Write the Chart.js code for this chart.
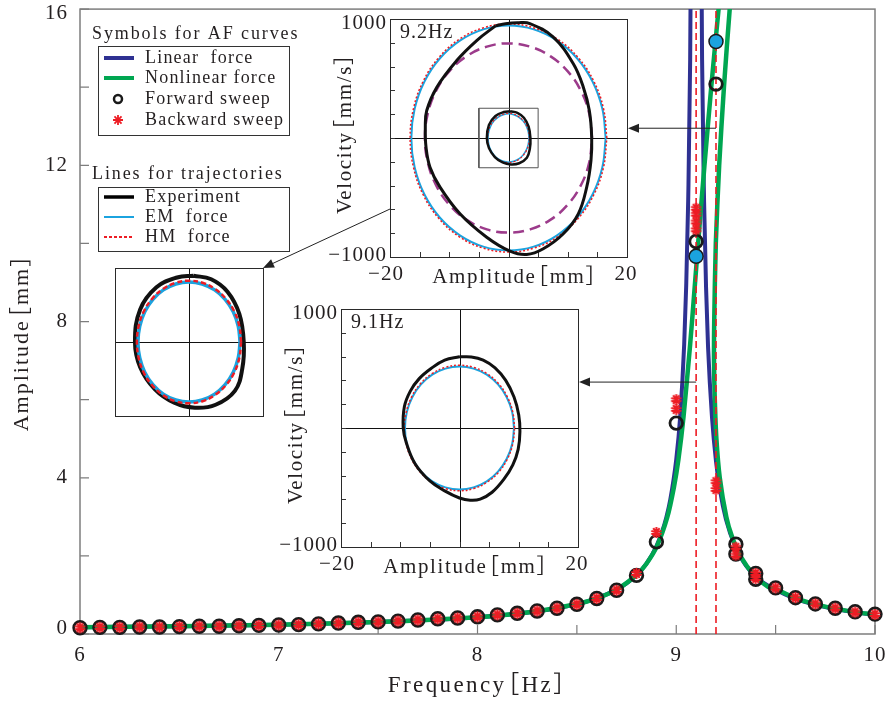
<!DOCTYPE html>
<html>
<head>
<meta charset="utf-8">
<script src="https://cdn.jsdelivr.net/npm/chart.js@4.4.1/dist/chart.umd.min.js"></script>
<style>
  html, body { margin: 0; padding: 0; background: #fff; }
  #wrap { position: relative; width: 890px; height: 702px; overflow: hidden; background: #fff; }
  #wrap canvas { position: absolute; }
</style>
</head>
<body>
<div id="wrap"></div>
<script>
// ---------- amplitude-frequency data ----------
const fwdFreq = [6.0, 6.1, 6.2, 6.3, 6.4, 6.5, 6.6, 6.7, 6.8, 6.9, 7.0, 7.1, 7.2, 7.3, 7.4, 7.5, 7.6, 7.7, 7.8, 7.9,
                 8.0, 8.1, 8.2, 8.3, 8.4, 8.5, 8.6, 8.7, 8.8, 8.9, 9.0, 9.1, 9.2, 9.3, 9.3, 9.4, 9.4, 9.5, 9.6, 9.7,
                 9.8, 9.9, 10.0];
const fwdAmp  = [0.16, 0.17, 0.17, 0.18, 0.18, 0.19, 0.20, 0.20, 0.21, 0.22, 0.23, 0.24, 0.26, 0.28, 0.30, 0.31, 0.33, 0.36, 0.39, 0.41,
                 0.44, 0.49, 0.53, 0.59, 0.66, 0.76, 0.91, 1.12, 1.50, 2.36, 5.40, 10.05, 14.08, 2.30, 2.05, 1.55, 1.40, 1.18, 0.93, 0.77,
                 0.66, 0.57, 0.51];
const bwdFreq = [6.0, 6.1, 6.2, 6.3, 6.4, 6.5, 6.6, 6.7, 6.8, 6.9, 7.0, 7.1, 7.2, 7.3, 7.4, 7.5, 7.6, 7.7, 7.8, 7.9,
                 8.0, 8.1, 8.2, 8.3, 8.4, 8.5, 8.6, 8.7, 8.8, 8.9, 9.0, 9.0, 9.1, 9.1, 9.1, 9.1, 9.2, 9.2, 9.3, 9.3,
                 9.4, 9.4, 9.5, 9.6, 9.7, 9.8, 9.9, 10.0];
const bwdAmp  = [0.16, 0.17, 0.17, 0.18, 0.18, 0.19, 0.20, 0.20, 0.21, 0.22, 0.23, 0.24, 0.26, 0.28, 0.30, 0.31, 0.33, 0.36, 0.39, 0.41,
                 0.44, 0.49, 0.53, 0.59, 0.66, 0.76, 0.91, 1.12, 1.55, 2.60, 6.00, 5.75, 10.35, 10.55, 10.75, 10.90, 3.90, 3.70, 2.22, 2.02,
                 1.55, 1.42, 1.18, 0.93, 0.77, 0.66, 0.56, 0.50];
const simFreq = [9.1, 9.2];
const simAmp  = [9.67, 15.17];
const markFreq = [9.1, 9.2];

const linFreq = [6.0, 6.25, 6.5, 6.75, 7.0, 7.25, 7.5, 7.75, 8.0, 8.2, 8.4, 8.5, 8.6, 8.7, 8.75, 8.8, 8.85, 8.9, 8.93, 8.95,
                 8.97, 9.0, 9.02, 9.04, 9.05, 9.06, 9.07, 9.08, 9.1, 9.12, 9.13, 9.14, 9.15, 9.16, 9.18, 9.2, 9.22, 9.25, 9.3, 9.35,
                 9.4, 9.5, 9.6, 9.7, 9.8, 9.9, 10.0];
const linAmp  = [0.173, 0.185, 0.199, 0.217, 0.239, 0.267, 0.305, 0.356, 0.43, 0.52, 0.66, 0.766, 0.914, 1.136, 1.295, 1.507, 1.80, 2.247, 2.64, 2.985,
                 3.44, 4.47, 5.58, 7.42, 8.91, 11.08, 14.7, 22.5, 40, 22.5, 14.7, 11.08, 8.87, 7.35, 5.54, 4.42, 3.68, 2.94, 2.2, 1.755,
                 1.46, 1.13, 0.90, 0.75, 0.64, 0.555, 0.495];

const nlFreq = [6.0, 6.5, 7.0, 7.5, 8.0, 8.25, 8.5, 8.6, 8.7, 8.8, 8.85, 8.903, 8.955, 8.988, 9.011, 9.037, 9.07, 9.087, 9.11, 9.142,
                9.176, 9.213, 9.253, 9.298, 9.325, 9.342, 9.303, 9.269, 9.240, 9.216, 9.199, 9.191, 9.190, 9.194, 9.202, 9.219, 9.252, 9.28, 9.322, 9.393,
                9.464, 9.5, 9.6, 9.7, 9.8, 9.9, 10.0];
const nlAmp  = [0.173, 0.199, 0.239, 0.305, 0.43, 0.55, 0.77, 0.915, 1.137, 1.51, 1.80, 2.25, 2.99, 3.75, 4.47, 5.58, 7.42, 8.5, 10, 12,
                14, 16, 18, 20, 21.5, 20, 18, 16, 14, 12, 10, 8, 7, 6, 5, 4, 3, 2.5, 2.0, 1.5,
                1.2, 1.15, 0.92, 0.76, 0.65, 0.56, 0.50];

const xMajor = [6, 7, 8, 9, 10];
const xMinor = [6.5, 7.5, 8.5, 9.5];
const yMajor = [0, 4, 8, 12, 16];
const yMinor = [2, 6, 10, 14];

// ---------- phase-plane trajectories (displacement mm, velocity mm/s) ----------
// 9.2 Hz, large response
const p92ExpX = [-2.2, -0.5, 1.5, 3.6, 7.56, 10.94, 12.63, 13.64, 14.04, 13.92, 13.2, 11.78, 9.25, 5.87, 3.07, 0.25, -3.68, -8.19, -11.56, -13.25, -13.92, -14.04, -13.8, -12.1, -8.74, -5.37, -2.2];
const p92ExpV = [942, 960, 968, 962, 847, 624, 427, 231, 7, -189, -413, -637, -805, -931, -979, -951, -834, -637, -413, -245, -77, 91, 231, 427, 651, 819, 942];
const p92EmX = [16.4, 15.84, 14.2, 11.6, 8.2, 4.25, 0, -4.25, -8.2, -11.6, -14.2, -15.84, -16.4, -15.84, -14.2, -11.6, -8.2, -4.25, 0, 4.25, 8.2, 11.6, 14.2, 15.84, 16.4];
const p92EmV = [0, 245, 473, 668, 818, 913, 945, 913, 818, 668, 473, 245, 0, -245, -473, -668, -818, -913, -945, -913, -818, -668, -473, -245, 0];
const p92HmX = [16.6, 16.03, 14.38, 11.74, 8.3, 4.3, 0, -4.3, -8.3, -11.74, -14.38, -16.03, -16.6, -16.03, -14.38, -11.74, -8.3, -4.3, 0, 4.3, 8.3, 11.74, 14.38, 16.03, 16.6];
const p92HmV = [0, 248, 479, 677, 830, 925, 958, 925, 830, 677, 479, 248, 0, -248, -479, -677, -830, -925, -958, -925, -830, -677, -479, -248, 0];
const p92RefX = [14.1, 13.62, 12.21, 9.97, 7.05, 3.65, 0, -3.65, -7.05, -9.97, -12.21, -13.62, -14.1, -13.62, -12.21, -9.97, -7.05, -3.65, 0, 3.65, 7.05, 9.97, 12.21, 13.62, 14.1];
const p92RefV = [0, 206, 398, 562, 688, 768, 795, 768, 688, 562, 398, 206, 0, -206, -398, -562, -688, -768, -795, -768, -688, -562, -398, -206, 0];
// 9.2 Hz, small response
const lowExpX = [0.3, 1.5, 2.6, 3.4, 3.7, 3.6, 3.1, 1.8, 0.4, -1.0, -2.3, -3.3, -3.65, -3.3, -2.2, -0.8, 0.3];
const lowExpV = [224, 212, 170, 95, 0, -90, -165, -212, -222, -205, -160, -85, 0, 110, 185, 218, 224];
const lowEmX = [3.45, 3.33, 2.99, 2.44, 1.73, 0.89, 0, -0.89, -1.73, -2.44, -2.99, -3.33, -3.45, -3.33, -2.99, -2.44, -1.73, -0.89, 0, 0.89, 1.73, 2.44, 2.99, 3.33, 3.45];
const lowEmV = [0, 53, 102, 144, 176, 196, 203, 196, 176, 144, 102, 53, 0, -53, -102, -144, -176, -196, -203, -196, -176, -144, -102, -53, 0];
const lowHmX = [3.52, 3.4, 3.05, 2.49, 1.76, 0.91, 0, -0.91, -1.76, -2.49, -3.05, -3.4, -3.52, -3.4, -3.05, -2.49, -1.76, -0.91, 0, 0.91, 1.76, 2.49, 3.05, 3.4, 3.52];
const lowHmV = [0, 54, 104, 146, 179, 200, 207, 200, 179, 146, 104, 54, 0, -54, -104, -146, -179, -200, -207, -200, -179, -146, -104, -54, 0];
const boxX = [-5, 5, 5, -5, -5];
const boxV = [-250, -250, 250, 250, -250];
// 9.1 Hz
const p91ExpX = [0, 2.0, 4.0, 6.0, 7.8, 9.2, 10.0, 10.2, 9.9, 9.0, 7.5, 5.5, 3.5, 1.8, 0, -2.5, -5.0, -7.5, -9.0, -9.5, -9.3, -8.3, -6.8, -4.8, -2.5, 0];
const p91ExpV = [598, 597, 570, 505, 400, 260, 110, -30, -180, -310, -430, -540, -598, -607, -588, -528, -445, -300, -120, 0, 180, 310, 415, 500, 570, 598];
const p91EmX = [9.2, 8.89, 7.97, 6.5, 4.6, 2.38, 0, -2.38, -4.6, -6.5, -7.97, -8.89, -9.2, -8.89, -7.97, -6.5, -4.6, -2.38, 0, 2.38, 4.6, 6.5, 7.97, 8.89, 9.2];
const p91EmV = [0, 134, 259, 366, 448, 499, 517, 499, 448, 366, 259, 134, 0, -134, -259, -366, -448, -499, -517, -499, -448, -366, -259, -134, 0];
const p91HmX = [9.3, 8.98, 8.05, 6.58, 4.65, 2.41, 0, -2.41, -4.65, -6.58, -8.05, -8.98, -9.3, -8.98, -8.05, -6.58, -4.65, -2.41, 0, 2.41, 4.65, 6.58, 8.05, 8.98, 9.3];
const p91HmV = [0, 136, 264, 373, 456, 509, 527, 509, 456, 373, 264, 136, 0, -136, -264, -373, -456, -509, -527, -509, -456, -373, -264, -136, 0];

const insetXTicks = [-20, -15, -10, -5, 0, 5, 10, 15, 20];
const insetYTicks = [-1000, -800, -600, -400, -200, 0, 200, 400, 600, 800, 1000];

// ---------- styling / layout ----------
const SERIF = '"Liberation Serif", "Noto Sans CJK SC", serif';
const INK = '#231f20';
const COL = { blue: '#2e3192', green: '#00a651', red: '#ed1c24', cyan: '#1ba3df', purple: '#9c3b8b', frame: '#7d7d7d', dark: '#1a1a1a' };

const LAYOUT = {
  main: { left: 0,   top: 0,   w: 890, h: 702, pad: { left: 80, top: 7,  right: 15, bottom: 68 } },
  zoom: { left: 105, top: 258, w: 170, h: 170, pad: { left: 10, top: 10, right: 12, bottom: 12 } },
  p92:  { left: 320, top: 0,   w: 320, h: 295, pad: { left: 70, top: 19, right: 13, bottom: 38 } },
  p91:  { left: 265, top: 290, w: 325, h: 295, pad: { left: 76, top: 19, right: 12, bottom: 38 } }
};
const ARROWS = [ { inset: 'p92', f: 9.2, a: 12.95 }, { inset: 'p91', f: 9.1, a: 6.45 } ];

const pts = (xs, ys) => xs.map((x, i) => ({ x: x, y: ys[i] }));

function setSpacing(ctx, ls) { if ('letterSpacing' in ctx) ctx.letterSpacing = (ls || 0) + 'px'; }

function txt(ctx, s, x, y, o) {
  ctx.save();
  ctx.font = o.font;
  ctx.fillStyle = o.color || INK;
  ctx.textAlign = o.align || 'left';
  ctx.textBaseline = o.base || 'middle';
  setSpacing(ctx, o.ls);
  ctx.translate(x, y);
  if (o.rot) ctx.rotate(o.rot);
  ctx.fillText(s, 0, 0);
  ctx.restore();
}

// axis title with a unit in full-width brackets: the bracket part is pulled
// closer to the word and the whole string is centred on its visible extent
function unitTitle(ctx, s, x, y, o) {
  const cut = s.indexOf('\uff3b');
  const head = s.slice(0, cut), tail = s.slice(cut);
  ctx.save();
  ctx.font = o.font; ctx.fillStyle = o.color || INK;
  ctx.textAlign = 'left'; ctx.textBaseline = 'middle';
  setSpacing(ctx, o.ls);
  const em = o.size;
  const hw = ctx.measureText(head).width, tw = ctx.measureText(tail).width;
  const gap = 0.45 * em, trail = 0.45 * em;
  const total = hw + tw - gap - trail;
  ctx.translate(x, y);
  if (o.rot) ctx.rotate(o.rot);
  ctx.fillText(head, -total / 2, 0);
  ctx.fillText(tail, -total / 2 + hw - gap, 0);
  ctx.restore();
}

function arrow(ctx, x1, y1, x2, y2) {
  const ang = Math.atan2(y2 - y1, x2 - x1), L = 11, W = 4.5;
  ctx.save();
  ctx.strokeStyle = '#222'; ctx.fillStyle = '#222'; ctx.lineWidth = 1;
  ctx.beginPath(); ctx.moveTo(x1, y1);
  ctx.lineTo(x2 - Math.cos(ang) * L * 0.8, y2 - Math.sin(ang) * L * 0.8); ctx.stroke();
  ctx.beginPath();
  ctx.moveTo(x2, y2);
  ctx.lineTo(x2 - Math.cos(ang) * L + Math.sin(ang) * W, y2 - Math.sin(ang) * L - Math.cos(ang) * W);
  ctx.lineTo(x2 - Math.cos(ang) * L - Math.sin(ang) * W, y2 - Math.sin(ang) * L + Math.cos(ang) * W);
  ctx.closePath(); ctx.fill();
  ctx.restore();
}

// many-spoked asterisk used as the backward-sweep marker
function asteriskSprite(r, spokes, width, color) {
  const c = document.createElement('canvas');
  const s = Math.ceil(2 * r + width + 2);
  c.width = s; c.height = s;
  const g = c.getContext('2d');
  g.strokeStyle = color; g.lineWidth = width; g.lineCap = 'butt';
  g.beginPath();
  for (let k = 0; k < spokes; k++) {
    const t = Math.PI / 2 + k * Math.PI / spokes;
    g.moveTo(s / 2 - Math.cos(t) * r, s / 2 - Math.sin(t) * r);
    g.lineTo(s / 2 + Math.cos(t) * r, s / 2 + Math.sin(t) * r);
  }
  g.stroke();
  return c;
}

function makeCanvas(key) {
  const L = LAYOUT[key];
  const c = document.createElement('canvas');
  c.width = L.w; c.height = L.h;
  c.style.left = L.left + 'px'; c.style.top = L.top + 'px';
  c.style.width = L.w + 'px'; c.style.height = L.h + 'px';
  document.getElementById('wrap').appendChild(c);
  return c;
}

// ---------- phase-plane insets ----------
const insetDeco = {
  id: 'insetDeco',
  beforeDatasetsDraw(chart, args, o) {
    const { ctx, chartArea: a, scales: { x, y } } = chart;
    ctx.save();
    ctx.fillStyle = '#fff';
    ctx.fillRect(a.left, a.top, a.right - a.left, a.bottom - a.top);
    ctx.strokeStyle = '#111'; ctx.lineWidth = 1;
    const x0 = Math.round(x.getPixelForValue(0)) + 0.5;
    const y0 = Math.round(y.getPixelForValue(0)) + 0.5;
    ctx.beginPath();
    ctx.moveTo(x0, a.top); ctx.lineTo(x0, a.bottom);
    ctx.moveTo(a.left, y0); ctx.lineTo(a.right, y0);
    ctx.stroke();
    if (o.ticks) {
      ctx.strokeStyle = '#333';
      ctx.beginPath();
      insetXTicks.forEach(v => { const px = Math.round(x.getPixelForValue(v)) + 0.5; ctx.moveTo(px, a.bottom); ctx.lineTo(px, a.bottom - 5); });
      insetYTicks.forEach(v => { const py = Math.round(y.getPixelForValue(v)) + 0.5; ctx.moveTo(a.left, py); ctx.lineTo(a.left + 5, py); });
      ctx.stroke();
    }
    ctx.restore();
  },
  afterDatasetsDraw(chart, args, o) {
    const { ctx, chartArea: a } = chart;
    ctx.save();
    ctx.strokeStyle = '#2a2a2a'; ctx.lineWidth = 1;
    ctx.strokeRect(Math.round(a.left) + 0.5, Math.round(a.top) + 0.5, Math.round(a.right - a.left), Math.round(a.bottom - a.top));
    ctx.restore();
    if (!o.labels) return;
    const f = '21px ' + SERIF;
    const { scales: { x, y } } = chart;
    const cx = (a.left + a.right) / 2, cy = (a.top + a.bottom) / 2;
    txt(ctx, '1000', a.left - 3, y.getPixelForValue(1000) + 4, { font: f, align: 'right', ls: 1 });
    txt(ctx, '\u22121000', a.left - 3, y.getPixelForValue(-1000) - 2, { font: f, align: 'right', ls: 1 });
    txt(ctx, '\u221220', x.getPixelForValue(-20) - 4, a.bottom + 17, { font: f, align: 'center', ls: 1 });
    txt(ctx, '20', x.getPixelForValue(20) - 1, a.bottom + 17, { font: f, align: 'center', ls: 1 });
    unitTitle(ctx, 'Amplitude\uff3bmm\uff3d', cx + 7, a.bottom + 20, { font: f, size: 21, ls: 1.6 });
    unitTitle(ctx, 'Velocity\uff3bmm/s\uff3d', a.left - 45, cy - 5, { font: f, size: 21, ls: 1.6, rot: -Math.PI / 2 });
    txt(ctx, o.labels, a.left + 10, a.top + 14, { font: '20px ' + SERIF, align: 'left', ls: 1 });
  }
};

function trace(xs, vs, color, width, dash) {
  return { data: pts(xs, vs), showLine: true, pointRadius: 0, borderColor: color, backgroundColor: color,
           borderWidth: width, borderDash: dash || [], tension: 0.4, fill: false };
}

function phaseChart(key, datasets, range, deco) {
  return new Chart(canvases[key], {
    type: 'scatter',
    data: { datasets: datasets },
    options: {
      responsive: false, animation: false, devicePixelRatio: 1, events: [],
      layout: { padding: LAYOUT[key].pad },
      scales: {
        x: { type: 'linear', min: -range[0], max: range[0], display: false },
        y: { type: 'linear', min: -range[1], max: range[1], display: false }
      },
      plugins: { legend: { display: false }, tooltip: { enabled: false }, insetDeco: deco }
    },
    plugins: [insetDeco]
  });
}

const canvases = {};
['main', 'zoom', 'p92', 'p91'].forEach(k => { canvases[k] = makeCanvas(k); });

const insets = {};
insets.zoom = phaseChart('zoom', [
  trace(lowHmX, lowHmV, COL.red, 2.5, [5, 3]),
  trace(lowEmX, lowEmV, COL.cyan, 3.5),
  trace(lowExpX, lowExpV, '#111', 4)
], [5, 250], { ticks: false, labels: null });

insets.p92 = phaseChart('p92', [
  trace(p92ExpX, p92ExpV, '#111', 3),
  trace(p92HmX, p92HmV, COL.red, 1.5, [2, 2]),
  trace(p92EmX, p92EmV, COL.cyan, 2),
  trace(p92RefX, p92RefV, COL.purple, 2.5, [11, 6]),
  trace(lowExpX, lowExpV, '#111', 2.5),
  trace(lowHmX, lowHmV, COL.red, 1.2, [2, 2]),
  trace(lowEmX, lowEmV, COL.cyan, 1.5),
  Object.assign(trace(boxX, boxV, '#555', 1), { tension: 0 })
], [20, 1000], { ticks: true, labels: '9.2Hz' });

insets.p91 = phaseChart('p91', [
  trace(p91ExpX, p91ExpV, '#111', 3),
  trace(p91HmX, p91HmV, COL.red, 1.5, [2, 2]),
  trace(p91EmX, p91EmV, COL.cyan, 2)
], [20, 1000], { ticks: true, labels: '9.1Hz' });

// ---------- main amplitude-frequency chart ----------
function insetPagePt(key, xv, yv) {
  const ch = insets[key];
  return [LAYOUT[key].left + ch.scales.x.getPixelForValue(xv), LAYOUT[key].top + ch.scales.y.getPixelForValue(yv)];
}

const mainDeco = {
  id: 'mainDeco',
  beforeDatasetsDraw(chart) {
    const { ctx, chartArea: a, scales: { x, y } } = chart;
    ctx.save();
    ctx.strokeStyle = COL.frame; ctx.lineWidth = 1.5;
    ctx.strokeRect(a.left, a.top, a.right - a.left, a.bottom - a.top);
    ctx.lineWidth = 1.2;
    ctx.beginPath();
    xMajor.concat(xMinor).forEach(v => { const px = x.getPixelForValue(v); ctx.moveTo(px, a.bottom); ctx.lineTo(px, a.bottom - 9); });
    yMajor.concat(yMinor).forEach(v => { const py = y.getPixelForValue(v); ctx.moveTo(a.left, py); ctx.lineTo(a.left + 9, py); });
    ctx.stroke();
    ctx.restore();
  },
  afterDatasetsDraw(chart) {
    const { ctx, scales: { x, y } } = chart;
    ARROWS.forEach(ar => {
      const ch = insets[ar.inset];
      const sx = x.getPixelForValue(ar.f), sy = y.getPixelForValue(ar.a);
      const ex = LAYOUT[ar.inset].left + ch.chartArea.right;
      arrow(ctx, sx, sy, ex + 1, sy);
    });
    const s = insetPagePt('p92', boxX[0], boxV[0]);
    const z = insets.zoom.chartArea;
    arrow(ctx, s[0], s[1], LAYOUT.zoom.left + z.right, LAYOUT.zoom.top + z.top);
  },
  afterDraw(chart) {
    const { ctx, chartArea: a, scales: { x, y } } = chart;
    const tf = '21px ' + SERIF;
    xMajor.forEach(v => txt(ctx, String(v), x.getPixelForValue(v), a.bottom + 21, { font: tf, align: 'center', ls: 1 }));
    yMajor.forEach(v => {
      const py = Math.min(Math.max(y.getPixelForValue(v), 13), a.bottom - 6);
      txt(ctx, String(v), a.left - 12, py, { font: tf, align: 'right', ls: 1 });
    });
    unitTitle(ctx, 'Frequency\uff3bHz\uff3d', 478, 686, { font: '23px ' + SERIF, size: 23, ls: 2.4 });
    unitTitle(ctx, 'Amplitude\uff3bmm\uff3d', 22, 342, { font: '22px ' + SERIF, size: 22, ls: 2, rot: -Math.PI / 2 });

    // legend: curve symbols
    const lf = '18px ' + SERIF;
    ctx.save();
    txt(ctx, 'Symbols for AF curves', 92, 34, { font: lf, ls: 1.9 });
    ctx.strokeStyle = '#333'; ctx.lineWidth = 1;
    ctx.strokeRect(98.5, 46.5, 191, 89);
    ctx.lineWidth = 4;
    ctx.strokeStyle = COL.blue; ctx.beginPath(); ctx.moveTo(104, 58); ctx.lineTo(134, 58); ctx.stroke();
    ctx.strokeStyle = COL.green; ctx.beginPath(); ctx.moveTo(104, 78); ctx.lineTo(134, 78); ctx.stroke();
    ctx.strokeStyle = COL.dark; ctx.lineWidth = 2.5;
    ctx.beginPath(); ctx.arc(118, 99, 4, 0, Math.PI * 2); ctx.stroke();
    ctx.strokeStyle = COL.red; ctx.lineWidth = 1.8;
    ctx.beginPath();
    for (let k = 0; k < 4; k++) {
      const t = k * Math.PI / 4, r = 5;
      ctx.moveTo(118 - Math.cos(t) * r, 120 - Math.sin(t) * r);
      ctx.lineTo(118 + Math.cos(t) * r, 120 + Math.sin(t) * r);
    }
    ctx.stroke();
    txt(ctx, 'Linear  force', 145, 58, { font: lf, ls: 1.2 });
    txt(ctx, 'Nonlinear force', 145, 78, { font: lf, ls: 1.2 });
    txt(ctx, 'Forward sweep', 145, 99, { font: lf, ls: 1.2 });
    txt(ctx, 'Backward sweep', 145, 120, { font: lf, ls: 1.2 });

    // legend: trajectory lines
    txt(ctx, 'Lines for trajectories', 92, 174, { font: lf, ls: 1.9 });
    ctx.strokeStyle = '#333'; ctx.lineWidth = 1;
    ctx.strokeRect(98.5, 187.5, 191, 64);
    ctx.strokeStyle = '#000'; ctx.lineWidth = 3.5;
    ctx.beginPath(); ctx.moveTo(104, 197); ctx.lineTo(134, 197); ctx.stroke();
    ctx.strokeStyle = COL.cyan; ctx.lineWidth = 2;
    ctx.beginPath(); ctx.moveTo(104, 217); ctx.lineTo(134, 217); ctx.stroke();
    ctx.strokeStyle = COL.red; ctx.lineWidth = 2; ctx.setLineDash([3, 2]);
    ctx.beginPath(); ctx.moveTo(104, 237); ctx.lineTo(134, 237); ctx.stroke();
    ctx.setLineDash([]);
    txt(ctx, 'Experiment', 145, 197, { font: lf, ls: 1.2 });
    txt(ctx, 'EM  force', 145, 217, { font: lf, ls: 1.2 });
    txt(ctx, 'HM  force', 145, 237, { font: lf, ls: 1.2 });
    ctx.restore();
  }
};

const starMark = asteriskSprite(5.4, 5, 2, COL.red);
const curveClip = { left: 4, top: 0, right: 4, bottom: 4 };
const mainDatasets = [
  { label: 'EM force response', data: pts(simFreq, simAmp), showLine: false, pointStyle: 'circle', pointRadius: 7,
    backgroundColor: COL.cyan, borderColor: COL.dark, borderWidth: 1.5, clip: false },
  { label: 'Backward sweep', data: pts(bwdFreq, bwdAmp), showLine: false, pointStyle: starMark, pointRadius: 6,
    backgroundColor: COL.red, borderColor: COL.red, borderWidth: 0, clip: false },
  { label: 'Forward sweep', data: pts(fwdFreq, fwdAmp), showLine: false, pointStyle: 'circle', pointRadius: 6.3,
    backgroundColor: 'rgba(0,0,0,0)', borderColor: COL.dark, borderWidth: 2.8, clip: false }
];
markFreq.forEach(f => mainDatasets.push({
  label: 'f = ' + f, data: [{ x: f, y: 0 }, { x: f, y: 16 }], showLine: true, pointRadius: 0,
  borderColor: COL.red, borderWidth: 1.6, borderDash: [7, 4], clip: curveClip
}));
mainDatasets.push(
  { label: 'Nonlinear force', data: pts(nlFreq, nlAmp), showLine: true, pointRadius: 0,
    borderColor: COL.green, borderWidth: 4.5, tension: 0.25, clip: curveClip },
  { label: 'Linear force', data: pts(linFreq, linAmp), showLine: true, pointRadius: 0,
    borderColor: COL.blue, borderWidth: 4, cubicInterpolationMode: 'monotone', clip: curveClip }
);

new Chart(canvases.main, {
  type: 'scatter',
  data: { datasets: mainDatasets },
  options: {
    responsive: false, animation: false, devicePixelRatio: 1, events: [],
    layout: { padding: LAYOUT.main.pad },
    scales: {
      x: { type: 'linear', min: 6, max: 10, display: false },
      y: { type: 'linear', min: 0, max: 16, display: false }
    },
    plugins: { legend: { display: false }, tooltip: { enabled: false } }
  },
  plugins: [mainDeco]
});
</script>
</body>
</html>
